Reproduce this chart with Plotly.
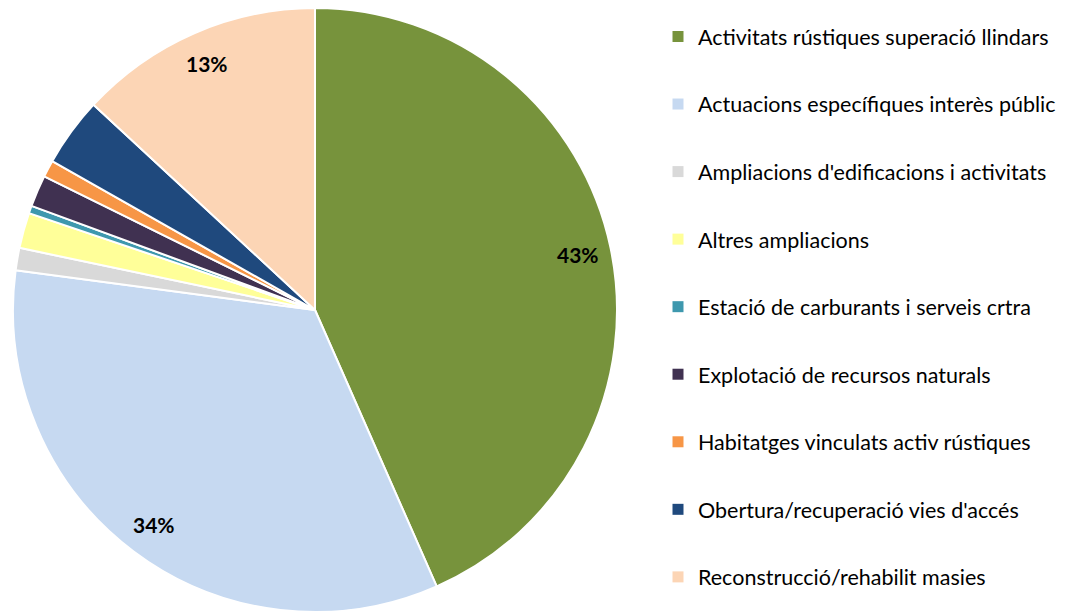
import math
import plotly.graph_objects as go

categories = [
    "Activitats rústiques superació llindars",
    "Actuacions específiques interès públic",
    "Ampliacions d'edificacions i activitats",
    "Altres ampliacions",
    "Estació de carburants i serveis crtra",
    "Explotació de recursos naturals",
    "Habitatges vinculats activ rústiques",
    "Obertura/recuperació vies d'accés",
    "Reconstrucció/rehabilit masies",
]
shares = [43.4, 33.7, 1.2, 1.9, 0.4, 1.7, 0.9, 3.7, 13.1]
colors = ["#77933C", "#C6D9F1", "#D9D9D9", "#FFFF99", "#3E98AE",
          "#403151", "#F79646", "#1F497D", "#FCD5B5"]

W, H = 1071, 612
OFF = 8  # page body margin in the browser
cx, cy, r = 315 - OFF, 310 - OFF, 302  # pie centre / radius in figure px

fig = go.Figure()
fig.add_trace(go.Pie(
    labels=categories,
    values=shares,
    sort=False,
    direction="clockwise",
    rotation=0,
    marker=dict(colors=colors, line=dict(color="white", width=2)),
    textinfo="none",
    hoverinfo="label+percent",
    showlegend=False,
    domain=dict(x=[(cx - r) / W, (cx + r) / W],
                y=[max(0, (H - cy - r) / H), min(1, (H - cy + r) / H)]),
))

# legend entries
for name, col in zip(categories, colors):
    fig.add_trace(go.Scatter(
        x=[None], y=[None], mode="markers", name=name, legendgroup=name,
        marker=dict(symbol="square", size=11, color=col),
    ))

# percent labels, excel style at ~0.89 r along slice mid-angle
total = sum(shares)
cum = 0
for v in shares:
    mid = (cum + v / 2) / total * 2 * math.pi
    cum += v
    if v < 5:
        continue
    px = cx + 0.89 * r * math.sin(mid)
    py = cy - 0.89 * r * math.cos(mid)
    fig.add_annotation(
        x=px / W, y=1 - py / H, xref="paper", yref="paper",
        xanchor="center", yanchor="middle",
        text=f"<b>{v / total * 100:.0f}%</b>", showarrow=False,
        font=dict(size=21, color="black", family="Lato"),
    )

fig.update_layout(
    width=W, height=H,
    margin=dict(l=0, r=0, t=0, b=0),
    paper_bgcolor="white", plot_bgcolor="white",
    font=dict(family="Lato", size=21.5, color="black"),
    xaxis=dict(visible=False), yaxis=dict(visible=False),
    legend=dict(x=(658 - OFF) / W, y=1 - (16 - OFF) / H, xanchor="left", yanchor="top",
                tracegroupgap=36.6, traceorder="grouped",
                font=dict(size=21.5)),
)

fig.write_html("out.html")
